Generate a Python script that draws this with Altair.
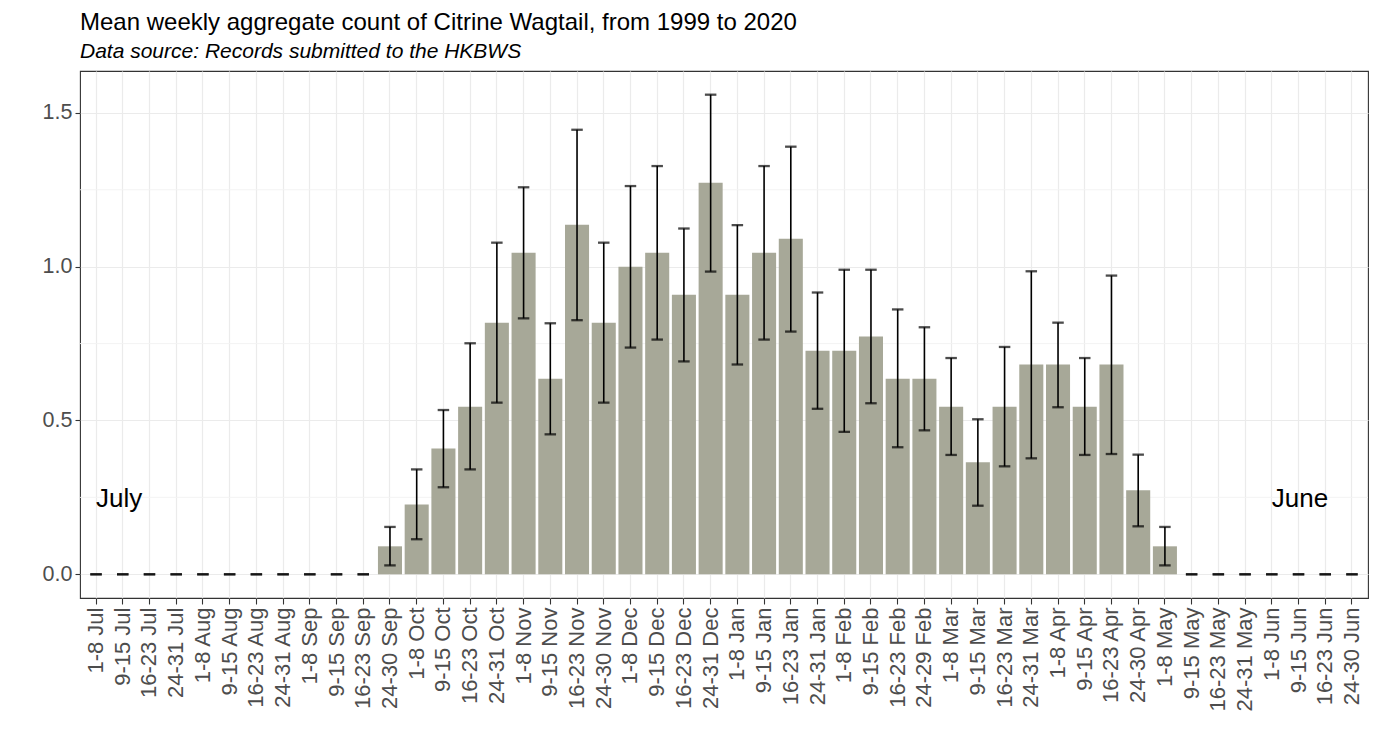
import altair as alt
import pandas as pd

weeks = [
    "1-8 Jul", "9-15 Jul", "16-23 Jul", "24-31 Jul",
    "1-8 Aug", "9-15 Aug", "16-23 Aug", "24-31 Aug",
    "1-8 Sep", "9-15 Sep", "16-23 Sep", "24-30 Sep",
    "1-8 Oct", "9-15 Oct", "16-23 Oct", "24-31 Oct",
    "1-8 Nov", "9-15 Nov", "16-23 Nov", "24-30 Nov",
    "1-8 Dec", "9-15 Dec", "16-23 Dec", "24-31 Dec",
    "1-8 Jan", "9-15 Jan", "16-23 Jan", "24-31 Jan",
    "1-8 Feb", "9-15 Feb", "16-23 Feb", "24-29 Feb",
    "1-8 Mar", "9-15 Mar", "16-23 Mar", "24-31 Mar",
    "1-8 Apr", "9-15 Apr", "16-23 Apr", "24-30 Apr",
    "1-8 May", "9-15 May", "16-23 May", "24-31 May",
    "1-8 Jun", "9-15 Jun", "16-23 Jun", "24-30 Jun",
]

mean_count = [
    0, 0, 0, 0,
    0, 0, 0, 0,
    0, 0, 0, 0.091,
    0.227, 0.409, 0.545, 0.818,
    1.045, 0.636, 1.136, 0.818,
    1.000, 1.045, 0.909, 1.273,
    0.909, 1.045, 1.091, 0.727,
    0.727, 0.773, 0.636, 0.636,
    0.545, 0.364, 0.545, 0.682,
    0.682, 0.545, 0.682, 0.273,
    0.091, 0, 0, 0,
    0, 0, 0, 0,
]

err_low = [
    0, 0, 0, 0,
    0, 0, 0, 0,
    0, 0, 0, 0.029,
    0.114, 0.283, 0.341, 0.558,
    0.832, 0.455, 0.826, 0.558,
    0.737, 0.763, 0.692, 0.984,
    0.682, 0.763, 0.789, 0.538,
    0.463, 0.556, 0.413, 0.468,
    0.388, 0.223, 0.351, 0.377,
    0.543, 0.388, 0.391, 0.156,
    0.029, 0, 0, 0,
    0, 0, 0, 0,
]

err_high = [
    0, 0, 0, 0,
    0, 0, 0, 0,
    0, 0, 0, 0.154,
    0.341, 0.534, 0.751, 1.078,
    1.258, 0.816, 1.445, 1.078,
    1.262, 1.327, 1.124, 1.559,
    1.135, 1.327, 1.390, 0.916,
    0.990, 0.990, 0.861, 0.803,
    0.703, 0.504, 0.739, 0.985,
    0.818, 0.703, 0.971, 0.389,
    0.154, 0, 0, 0,
    0, 0, 0, 0,
]

y_ticks = [0, 0.5, 1.0, 1.5]
minor_grid = [0.25, 0.75, 1.25]

month_labels = ["July", "June"]
month_label_weeks = ["1-8 Jul", "1-8 Jun"]
month_label_y = [0.245, 0.245]

df = pd.DataFrame({"week": weeks, "mean": mean_count, "low": err_low, "high": err_high})
minor_df = pd.DataFrame({"v": minor_grid})
ann_df = pd.DataFrame({"week": month_label_weeks, "label": month_labels, "y": month_label_y})

FONT = "Liberation Sans"

xscale = alt.Scale(domain=weeks, paddingInner=0.1, paddingOuter=0.15)
yscale = alt.Scale(domain=[-0.077, 1.636], nice=False, zero=False)

x_enc = alt.X(
    "week:N", sort=weeks, scale=xscale, title=None,
    axis=alt.Axis(
        labelAngle=270, labelFontSize=22, labelColor="#4D4D4D", labelFont=FONT,
        tickColor="#333333", tickSize=6, tickWidth=1.1, bandPosition=0.5,
        grid=True, gridColor="#EBEBEB", gridWidth=1.2, domain=False,
        labelPadding=3, labelOverlap=False,
    ),
)

y_axis = alt.Axis(
    values=y_ticks, format=".1f", labelFontSize=21.5, labelColor="#4D4D4D", labelFont=FONT,
    tickColor="#333333", tickSize=5, tickWidth=1.1, grid=True, gridColor="#EBEBEB",
    gridWidth=1.2, domain=False, labelPadding=3, minExtent=40, maxExtent=40,
)

minor = alt.Chart(minor_df).mark_rule(color="#F2F2F2", strokeWidth=0.9).encode(
    y=alt.Y("v:Q", scale=yscale, axis=y_axis, title=None)
)

bars = alt.Chart(df).mark_bar(color="#A7A898").encode(
    x=x_enc,
    y=alt.Y("mean:Q", scale=yscale, axis=y_axis, title=None),
)

rules = alt.Chart(df).mark_rule(color="black", strokeWidth=1.6).encode(
    x=alt.X("week:N", sort=weeks, scale=xscale),
    y=alt.Y("low:Q", scale=yscale),
    y2="high:Q",
)

caps_low = alt.Chart(df).mark_tick(color="black", thickness=2.3, size=11.5, orient="horizontal").encode(
    x=alt.X("week:N", sort=weeks, scale=xscale),
    y=alt.Y("low:Q", scale=yscale),
)
caps_high = alt.Chart(df).mark_tick(color="black", thickness=2.3, size=11.5, orient="horizontal").encode(
    x=alt.X("week:N", sort=weeks, scale=xscale),
    y=alt.Y("high:Q", scale=yscale),
)

ann = alt.Chart(ann_df).mark_text(
    align="left", baseline="middle", fontSize=26, font=FONT, color="black"
).encode(
    x=alt.X("week:N", sort=weeks, scale=xscale),
    y=alt.Y("y:Q", scale=yscale),
    text="label:N",
)

chart = alt.layer(minor, bars, rules, caps_low, caps_high, ann).properties(
    width=1288,
    height=527,
    background="white",
    title=alt.TitleParams(
        text="Mean weekly aggregate count of Citrine Wagtail, from 1999 to 2020",
        subtitle="Data source: Records submitted to the HKBWS",
        anchor="start", frame="group", font=FONT, fontSize=24, fontWeight="normal",
        color="black", subtitleFont=FONT, subtitleFontSize=21, subtitleFontStyle="italic",
        subtitleColor="black", subtitlePadding=6, offset=9,
    ),
    padding={"left": 32, "top": 3, "right": 0, "bottom": 5},
).configure_view(stroke="#333333", strokeWidth=1.1)

chart.save("out.html", embed_options={"renderer": "svg", "actions": False})
